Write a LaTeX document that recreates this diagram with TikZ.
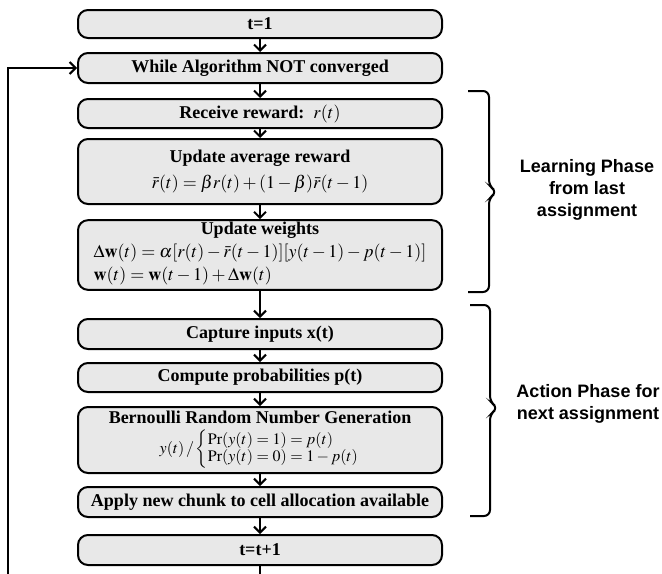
\documentclass[tikz,border=0pt]{standalone}
\usepackage{amsmath, amssymb}
\usepackage{mathptmx}
\usepackage{fontspec}
\setmainfont{Liberation Serif}
\newfontfamily\phasefont{Liberation Sans}
\usetikzlibrary{arrows.meta}
\definecolor{boxgray}{RGB}{232,232,232}
\tikzset{
  stepbox/.style={draw, line width=1pt, rounded corners=5pt, fill=boxgray, minimum width=182pt, align=center, inner sep=1pt, font=\bfseries\fontsize{9}{10.5}\selectfont},
  flow/.style={line width=1pt, -{Straight Barb[length=3pt,width=6pt]}},
  phase/.style={align=center, font=\phasefont\bfseries\fontsize{9}{11}\selectfont}
}

\begin{document}
\begin{tikzpicture}[x=0.5pt, y=-0.5pt]
\path[use as bounding box, clip] (0,0) rectangle (662,573);
\node[stepbox, minimum height=14pt] (t1) at (260,24) {t=1};
\node[stepbox, minimum height=15pt] (while) at (260,68) {While Algorithm NOT converged};
\node[stepbox, minimum height=14.5pt] (receive) at (260,113.5) {Receive reward:~~\mdseries$r(t)$};
\node[stepbox, minimum height=32.5pt] (avg) at (260,171.5) {Update average reward\\[2.5pt] \mdseries$\bar{r}(t)=\beta r(t)+(1-\beta)\bar{r}(t-1)$};
\node[stepbox, minimum height=33pt] (weights) at (260,255) {Update weights\\[0.5pt] \mdseries\renewcommand{\arraystretch}{1.1}\begin{tabular}{@{}l@{}}$\Delta\mathbf{w}(t)=\alpha[r(t)-\bar{r}(t-1)][y(t-1)-p(t-1)]$\\ $\mathbf{w}(t)=\mathbf{w}(t-1)+\Delta\mathbf{w}(t)$\end{tabular}};
\node[stepbox, minimum height=15pt] (capture) at (260,334) {Capture inputs x(t)};
\node[stepbox, minimum height=14.5pt] (compute) at (260,377.5) {Compute probabilities p(t)};
\node[stepbox, minimum height=33pt] (bern) at (260,440) {Bernoulli Random Number Generation\\[2pt] \mdseries\fontsize{8}{9}\selectfont\renewcommand{\arraystretch}{0.9}$y(t)\,/\left\{\begin{array}{@{}l@{}}\Pr(y(t)=1)=p(t)\\ \Pr(y(t)=0)=1-p(t)\end{array}\right.$};
\node[stepbox, minimum height=15pt] (apply) at (260,502) {Apply new chunk to cell allocation available};
\node[stepbox, minimum height=15pt] (tnext) at (260,550) {t=t+1};
\foreach \a/\b in {t1/while, while/receive, receive/avg, avg/weights, weights/capture, capture/compute, compute/bern, bern/apply, apply/tnext}
  \draw[flow] (\a.south) -- (\b.north);
\coordinate (loopend) at (8,590);
\draw[flow] (tnext.south) |- (loopend) |- (while.west);
\draw[line width=1pt, rounded corners=3pt] (468,91) -- (489,91) -- (489,186) -- (497,192) -- (489,198) -- (489,292) -- (468,292);
\draw[line width=1pt, rounded corners=3pt] (470,305) -- (490,305) -- (490,402) -- (498,408) -- (490,414) -- (490,516) -- (470,516);
\node[phase] (learn) at (587,190) {Learning Phase\\from last\\assignment};
\node[phase] (action) at (588,404) {Action Phase for\\next assignment};
\end{tikzpicture}
\end{document}
